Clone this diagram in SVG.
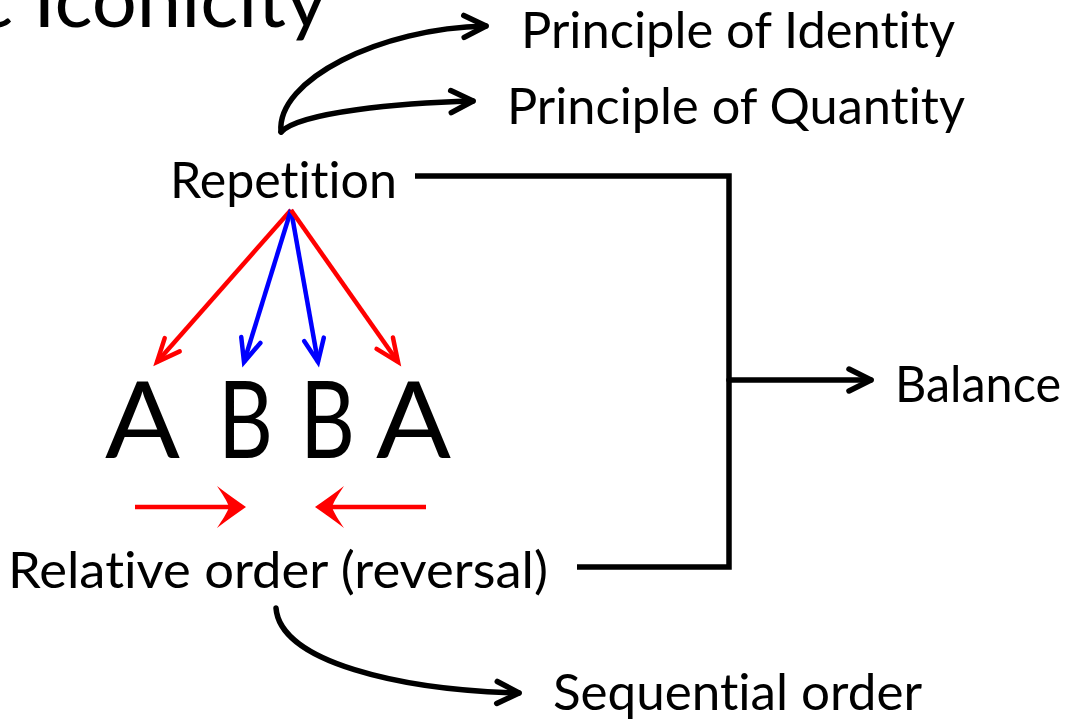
<svg xmlns="http://www.w3.org/2000/svg" width="1068" height="727" viewBox="0 0 1068 727">
  <style>
    .lbl { font-family: Lato, "Open Sans", "Liberation Sans", sans-serif; font-size: 51px; fill: #000; font-variant-ligatures: none; font-feature-settings: "liga" 0, "clig" 0; }
    .big { font-family: Lato, "Open Sans", "Liberation Sans", sans-serif; font-size: 107px; fill: #000; }
    .k { fill: none; stroke: #000; stroke-width: 5.5; stroke-linecap: round; stroke-linejoin: round; }
    .br { fill: none; stroke: #000; stroke-width: 5.5; stroke-linecap: butt; stroke-linejoin: miter; }
    .r { fill: none; stroke: #ff0000; stroke-width: 4.5; stroke-linecap: butt; }
    .b { fill: none; stroke: #0000ff; stroke-width: 4.5; stroke-linecap: butt; }
  </style>
  <defs>
    <marker id="mk" markerUnits="userSpaceOnUse" viewBox="-30 -16 34 32" markerWidth="34" markerHeight="32" refX="0" refY="0" orient="auto" overflow="visible">
      <path d="M-22,-11 L0,0 L-22,11" fill="none" stroke="#000" stroke-width="5.5" stroke-linecap="round" stroke-linejoin="round"/>
    </marker>
    <marker id="mr" markerUnits="userSpaceOnUse" viewBox="-30 -16 34 32" markerWidth="34" markerHeight="32" refX="0" refY="0" orient="auto" overflow="visible">
      <path d="M-23,-10 L0,0 L-23,10" fill="none" stroke="#ff0000" stroke-width="4.5" stroke-linecap="round" stroke-linejoin="miter"/>
    </marker>
    <marker id="mb" markerUnits="userSpaceOnUse" viewBox="-30 -16 34 32" markerWidth="34" markerHeight="32" refX="0" refY="0" orient="auto" overflow="visible">
      <path d="M-23,-10 L0,0 L-23,10" fill="none" stroke="#0000ff" stroke-width="4.5" stroke-linecap="round" stroke-linejoin="miter"/>
    </marker>
    <path id="swoosh" d="M0,0 C-10,-7 -20,-14 -29,-21 C-23,-12 -19,-6 -17,0 C-19,6 -23,12 -29,21 C-20,14 -10,7 0,0 Z" fill="#ff0000"/>
  </defs>

  <g id="title">
    <text class="lbl" x="-25" y="27" style="font-size:78px" textLength="352" lengthAdjust="spacingAndGlyphs">c Iconicity</text>
  </g>

  <g id="connectors">
    <path class="k" d="M281,132 C276,80 380,28 486,26" marker-end="url(#mk)"/>
    <path class="k" d="M281,132 C300,112 400,103 473,101" marker-end="url(#mk)"/>
    <path class="br" d="M415,176 H729 V567 H577"/>
    <path class="k" d="M729,380 H871" marker-end="url(#mk)"/>
    <path class="k" d="M276,608 C280,662 400,690 519,693" marker-end="url(#mk)"/>
    <path class="r" d="M291,210 L157,362" marker-end="url(#mr)"/>
    <path class="b" d="M291,210 L244,362" marker-end="url(#mb)"/>
    <path class="b" d="M291,210 L318,362" marker-end="url(#mb)"/>
    <path class="r" d="M291,210 L398,362" marker-end="url(#mr)"/>
    <path class="r" d="M135,507 H236"/>
    <use href="#swoosh" transform="translate(246,507)"/>
    <path class="r" d="M426,507 H325"/>
    <use href="#swoosh" transform="translate(315,507) scale(-1,1)"/>
  </g>

  <g id="node-identity">
    <text class="lbl" x="521" y="48" textLength="434" lengthAdjust="spacingAndGlyphs">Principle of Identity</text>
  </g>
  <g id="node-quantity">
    <text class="lbl" x="507" y="124" textLength="458" lengthAdjust="spacingAndGlyphs">Principle of Quantity</text>
  </g>
  <g id="node-repetition">
    <text class="lbl" x="170" y="198" textLength="227" lengthAdjust="spacingAndGlyphs">Repetition</text>
  </g>
  <g id="node-abba">
    <text class="big" x="105" y="458" textLength="75" lengthAdjust="spacingAndGlyphs">A</text>
    <text class="big" x="218" y="458" textLength="55" lengthAdjust="spacingAndGlyphs">B</text>
    <text class="big" x="300" y="458" textLength="55" lengthAdjust="spacingAndGlyphs">B</text>
    <text class="big" x="376" y="458" textLength="75" lengthAdjust="spacingAndGlyphs">A</text>
  </g>
  <g id="node-balance">
    <text class="lbl" x="895" y="402" textLength="166" lengthAdjust="spacingAndGlyphs">Balance</text>
  </g>
  <g id="node-relative">
    <text class="lbl" x="8" y="588" textLength="540" lengthAdjust="spacingAndGlyphs">Relative order (reversal)</text>
  </g>
  <g id="node-sequential">
    <text class="lbl" x="553" y="710" textLength="369" lengthAdjust="spacingAndGlyphs">Sequential order</text>
  </g>
</svg>
